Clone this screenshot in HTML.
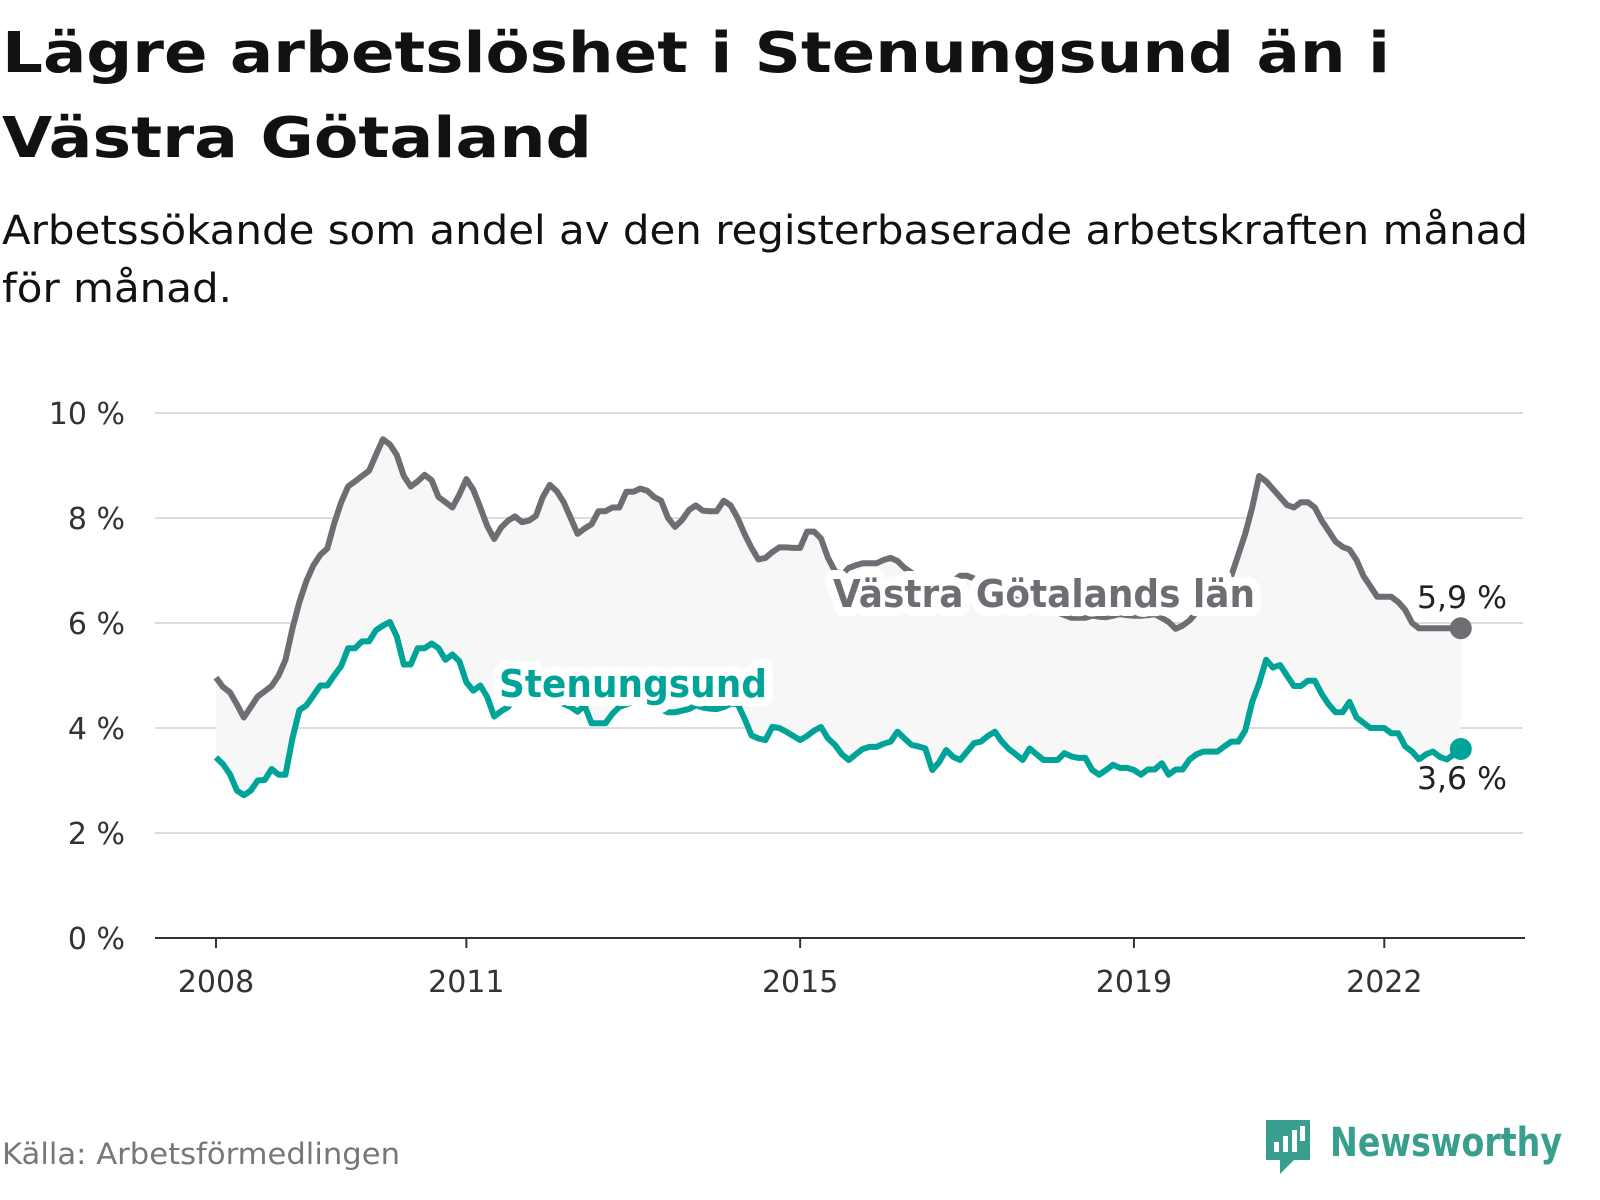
<!DOCTYPE html>
<html><head><meta charset="utf-8">
<style>
html,body{margin:0;padding:0;background:#fff;}
svg{display:block;font-family:"DejaVu Sans","Liberation Sans",sans-serif;}
</style></head>
<body>
<svg id="chart" width="1600" height="1200" viewBox="0 0 1600 1200" xmlns="http://www.w3.org/2000/svg">
<text x="2" y="72" font-size="56" font-weight="bold" fill="#111" textLength="1388" lengthAdjust="spacingAndGlyphs">Lägre arbetslöshet i Stenungsund än i</text>
<text x="2" y="157" font-size="56" font-weight="bold" fill="#111" textLength="590" lengthAdjust="spacingAndGlyphs">Västra Götaland</text>
<text x="2" y="244" font-size="40" fill="#111" textLength="1526" lengthAdjust="spacingAndGlyphs">Arbetssökande som andel av den registerbaserade arbetskraften månad</text>
<text x="2" y="302" font-size="40" fill="#111" textLength="230" lengthAdjust="spacingAndGlyphs">för månad.</text>
<g id="grid"></g>
<g id="area"></g>
<g id="lines"></g>
<g id="labels"></g>
<text x="2" y="1164" font-size="29" fill="#777" textLength="398" lengthAdjust="spacingAndGlyphs">Källa: Arbetsförmedlingen</text>
<g>
<path d="M1266 1120 h44 v40 h-16 l-14 14 v-14 h-14 z" fill="#3a9e8f"/>
<rect x="1274" y="1142" width="5" height="10" fill="#fff"/>
<rect x="1283" y="1136" width="5" height="16" fill="#fff"/>
<rect x="1292" y="1130" width="5" height="22" fill="#fff"/>
<rect x="1300" y="1126" width="5" height="15" fill="#fff"/>
<text x="1330" y="1156" font-size="40" font-weight="bold" fill="#3a9e8f" textLength="232" lengthAdjust="spacingAndGlyphs">Newsworthy</text>
</g>
</svg>
<script>
const yTicks = [0, 2, 4, 6, 8, 10];
const xTickYears = [2008, 2011, 2015, 2019, 2022];
const startYear = 2008;
const vastra = [4.96,4.78,4.68,4.45,4.2,4.4,4.6,4.7,4.8,5.0,5.3,5.9,6.4,6.8,7.1,7.3,7.42,7.9,8.3,8.6,
8.7,8.8,8.9,9.2,9.5,9.4,9.2,8.8,8.6,8.7,8.82,8.72,8.4,8.3,8.2,8.45,8.74,8.54,8.2,7.85,
7.6,7.82,7.95,8.03,7.92,7.95,8.04,8.4,8.63,8.51,8.3,8.0,7.7,7.8,7.88,8.13,8.13,8.2,8.2,8.5,
8.5,8.56,8.52,8.4,8.33,8.0,7.83,7.96,8.15,8.24,8.14,8.13,8.13,8.33,8.24,8.0,7.7,7.43,7.21,7.24,
7.35,7.44,7.44,7.43,7.43,7.74,7.74,7.61,7.24,6.99,6.9,7.05,7.1,7.14,7.14,7.14,7.2,7.24,7.18,7.05,
6.96,6.85,6.75,6.7,6.65,6.7,6.8,6.9,6.9,6.85,6.75,6.65,6.6,6.55,6.5,6.45,6.4,6.35,6.3,6.3,
6.25,6.2,6.15,6.1,6.1,6.1,6.14,6.12,6.11,6.14,6.17,6.15,6.14,6.14,6.15,6.17,6.1,6.02,5.89,5.95,
6.05,6.2,6.3,6.4,6.5,6.6,6.9,7.3,7.7,8.2,8.8,8.7,8.55,8.4,8.25,8.2,8.3,8.3,8.2,7.95,
7.75,7.55,7.45,7.4,7.2,6.9,6.7,6.5,6.5,6.5,6.4,6.25,6.0,5.9,5.9,5.9,5.9,5.9,5.9,5.9];
const stenungsund = [3.44,3.31,3.12,2.81,2.72,2.81,3.0,3.01,3.22,3.11,3.11,3.81,4.34,4.43,4.62,4.81,4.81,5.0,5.18,5.52,
5.52,5.65,5.65,5.86,5.95,6.02,5.74,5.21,5.21,5.52,5.52,5.61,5.52,5.3,5.4,5.27,4.87,4.71,4.81,4.59,
4.22,4.32,4.4,4.6,4.7,4.8,4.7,4.6,4.6,4.5,4.46,4.4,4.31,4.43,4.09,4.09,4.09,4.27,4.4,4.45,
4.5,4.5,4.45,4.4,4.35,4.3,4.3,4.33,4.36,4.43,4.39,4.37,4.36,4.4,4.46,4.46,4.18,3.86,3.8,3.77,
4.02,4.0,3.93,3.85,3.77,3.85,3.95,4.02,3.8,3.68,3.5,3.39,3.5,3.6,3.64,3.64,3.7,3.74,3.93,3.8,
3.68,3.65,3.61,3.2,3.35,3.58,3.45,3.39,3.55,3.71,3.74,3.85,3.93,3.74,3.6,3.5,3.39,3.61,3.5,3.39,
3.39,3.39,3.52,3.46,3.43,3.43,3.2,3.11,3.2,3.3,3.24,3.24,3.2,3.11,3.21,3.21,3.33,3.11,3.21,3.21,
3.4,3.5,3.55,3.55,3.55,3.65,3.74,3.74,3.95,4.5,4.85,5.3,5.15,5.2,5.0,4.8,4.8,4.9,4.9,4.65,
4.45,4.3,4.3,4.5,4.2,4.1,4.0,4.0,4.0,3.9,3.9,3.65,3.55,3.4,3.5,3.55,3.45,3.4,3.5,3.6];

const NS='http://www.w3.org/2000/svg';
const X0=216, PX_PER_YEAR=83.45, Y0=938, PX_PER_PCT=52.5;
function xScale(monthIndex){ return X0 + monthIndex/12*PX_PER_YEAR; }
function xYear(year){ return X0 + (year-startYear)*PX_PER_YEAR; }
function yScale(v){ return Y0 - v*PX_PER_PCT; }
function mk(tag, parent, attrs){ const e=document.createElementNS(NS,tag); for(const k in attrs) e.setAttribute(k,attrs[k]); parent.appendChild(e); return e; }

const grid=document.getElementById('grid');
yTicks.forEach(t=>{
  if(t>0){
    const l=mk('line',grid,{x1:155,x2:1523,y1:yScale(t),y2:yScale(t),stroke:'#dddddd','stroke-width':2});
    
    
  }
  const tx=mk('text',grid,{x:125,y:yScale(t)+11,'font-size':30,'text-anchor':'end',fill:'#333'});
  tx.textContent=t+' %';
  
  
});
const ax=mk('line',grid,{x1:155,x2:1525,y1:Y0,y2:Y0,stroke:'#333','stroke-width':2});


xTickYears.forEach(y=>{
  const tk=mk('line',grid,{x1:xYear(y),x2:xYear(y),y1:Y0,y2:Y0+10,stroke:'#333','stroke-width':2});
  
  
  const tx=mk('text',grid,{x:xYear(y),y:Y0+54,'font-size':30,'text-anchor':'middle',fill:'#333'});
  tx.textContent=y;
  
  
});

const n=Math.min(vastra.length,stenungsund.length);
const upperPts=[], lowerPts=[];
for(let i=0;i<n;i++){ upperPts.push(xScale(i).toFixed(1)+','+yScale(vastra[i]).toFixed(1)); lowerPts.push(xScale(i).toFixed(1)+','+yScale(stenungsund[i]).toFixed(1)); }
const area=mk('polygon',document.getElementById('area'),{points:upperPts.concat(lowerPts.slice().reverse()).join(' '),fill:'#f7f7f7'});



const lines=document.getElementById('lines');
const gl=mk('polyline',lines,{points:upperPts.join(' '),fill:'none',stroke:'#6e6d73','stroke-width':6,'stroke-linejoin':'round'});


const tl=mk('polyline',lines,{points:lowerPts.join(' '),fill:'none',stroke:'#00a398','stroke-width':6,'stroke-linejoin':'round'});


const d1=mk('circle',lines,{cx:xScale(n-1),cy:yScale(vastra[n-1]),r:11,fill:'#6e6d73'});


const d2=mk('circle',lines,{cx:xScale(n-1),cy:yScale(stenungsund[n-1]),r:11,fill:'#00a398'});



const labels=document.getElementById('labels');
function label(txt,x,y,size,weight,color,name,len,halo){
  const h=mk('text',labels,{x:x,y:y,'font-size':size,'font-weight':weight,fill:'#fff',stroke:'#fff','stroke-width':halo,'stroke-linejoin':'round',textLength:len,lengthAdjust:'spacingAndGlyphs'});
  h.textContent=txt;
  
  
  const t=mk('text',labels,{x:x,y:y,'font-size':size,'font-weight':weight,fill:color,textLength:len,lengthAdjust:'spacingAndGlyphs'});
  t.textContent=txt;
  
  
}
label('Västra Götalands län',833,607,38,'bold','#6e6d73','series-label-vastra-gotaland',422,18);
label('Stenungsund',499,697,38,'bold','#00a398','series-label-stenungsund',268,18);
label(String(vastra[n-1]).replace('.',',')+' %',1417,608,31,'normal','#222','end-value-vastra-gotaland',90,10);
label(String(stenungsund[n-1]).replace('.',',')+' %',1417,789,31,'normal','#222','end-value-stenungsund',90,10);
</script>
</body></html>
